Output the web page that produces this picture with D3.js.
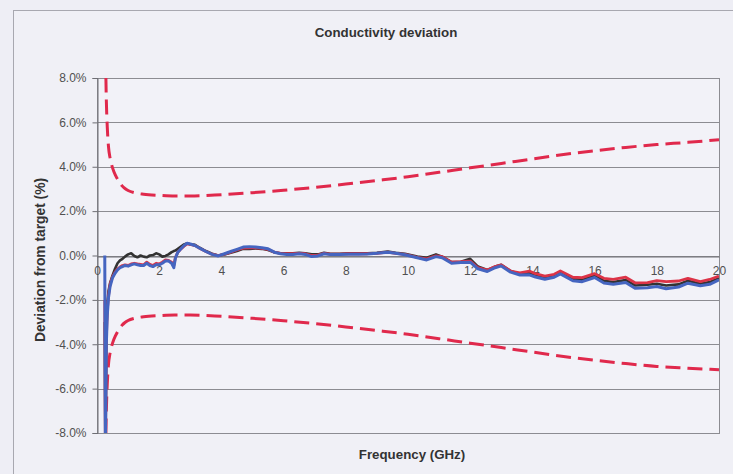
<!DOCTYPE html>
<html>
<head>
<meta charset="utf-8">
<script src="https://cdn.jsdelivr.net/npm/d3@7"></script>
<style>
  html, body { margin: 0; padding: 0; background: #eeeef5; }
  svg { display: block; }
  text { font-family: "Liberation Sans", Arial, sans-serif; }
</style>
</head>
<body>
<svg id="chart" width="733" height="474"></svg>
<script>
// ---------- data ----------
const title = "Conductivity deviation";
const xLabel = "Frequency (GHz)";
const yLabel = "Deviation from target (%)";
const xTicks = [0, 2, 4, 6, 8, 10, 12, 14, 16, 18, 20];
const yTicks = [-8, -6, -4, -2, 0, 2, 4, 6, 8];

// limit curves (dashed red)
const limitFreqs = [0.25, 0.28, 0.3, 0.33, 0.37, 0.42, 0.5, 0.6, 0.7, 0.8, 0.9, 1.0, 1.2, 1.5, 2.0, 2.5, 3.0, 4.0, 5.0, 6.0, 7.0, 8.0, 9.0, 10.0, 11.0, 12.0, 13.0, 14.0, 15.0, 16.0, 17.0, 18.0, 19.0, 20.0];
const upperLimit = [11, 8.5, 7.0, 5.8, 4.9, 4.4, 3.95, 3.6, 3.35, 3.15, 3.02, 2.93, 2.83, 2.76, 2.71, 2.68, 2.68, 2.74, 2.83, 2.94, 3.07, 3.22, 3.38, 3.55, 3.75, 3.95, 4.15, 4.35, 4.55, 4.72, 4.87, 5.0, 5.1, 5.22];
const lowerLimit = [-11, -8.5, -7.0, -5.8, -4.9, -4.4, -3.95, -3.6, -3.35, -3.15, -3.02, -2.93, -2.83, -2.76, -2.71, -2.68, -2.68, -2.74, -2.83, -2.94, -3.07, -3.22, -3.38, -3.55, -3.75, -3.95, -4.15, -4.35, -4.55, -4.72, -4.87, -5.0, -5.08, -5.15];

// measured deviation curves
const freqs = [0.25, 0.27, 0.3, 0.33, 0.37, 0.42, 0.5, 0.58, 0.66, 0.74, 0.82, 0.9, 1.0, 1.1, 1.2, 1.3, 1.4, 1.5, 1.6, 1.7, 1.8, 1.9, 2.0, 2.1, 2.2, 2.3, 2.4, 2.47, 2.52, 2.6, 2.7, 2.8, 2.9, 3.0, 3.15, 3.3, 3.5, 3.7, 3.9, 4.1, 4.3, 4.5, 4.7, 4.9, 5.1, 5.3, 5.5, 5.7, 5.9, 6.1, 6.3, 6.5, 6.7, 6.9, 7.1, 7.3, 7.5, 7.8, 8.1, 8.4, 8.7, 9.0, 9.35, 9.6, 9.9, 10.3, 10.6, 10.9, 11.1, 11.4, 11.7, 12.0, 12.25, 12.55, 12.8, 13.0, 13.3, 13.6, 13.9, 14.1, 14.4, 14.7, 14.9, 15.3, 15.6, 16.0, 16.3, 16.6, 17.0, 17.3, 17.7, 18.0, 18.3, 18.7, 19.0, 19.4, 19.7, 20.0];

const blackSeries = [-3, -9, -3.5, -2.2, -1.6, -1.25, -0.9, -0.6, -0.35, -0.22, -0.15, -0.05, 0.05, 0.1, -0.02, -0.08, 0.0, -0.05, -0.08, 0.0, 0.02, 0.1, 0.05, -0.05, -0.02, 0.05, 0.15, 0.2, 0.22, 0.3, 0.4, 0.5, 0.55, 0.5, 0.48, 0.35, 0.2, 0.08, 0.0, 0.05, 0.12, 0.2, 0.3, 0.3, 0.32, 0.3, 0.25, 0.15, 0.1, 0.1, 0.1, 0.12, 0.1, 0.05, 0.05, 0.12, 0.08, 0.08, 0.1, 0.1, 0.1, 0.12, 0.18, 0.12, 0.08, -0.05, -0.1, 0.05, -0.05, -0.3, -0.28, -0.15, -0.5, -0.65, -0.5, -0.42, -0.7, -0.83, -0.78, -0.88, -0.98, -0.9, -0.75, -1.05, -1.1, -0.9, -1.14, -1.2, -1.1, -1.35, -1.32, -1.27, -1.35, -1.3, -1.14, -1.27, -1.2, -1.02];

const redSeries = [-2, -9, -3.8, -2.5, -1.8, -1.3, -0.95, -0.75, -0.6, -0.52, -0.45, -0.42, -0.45, -0.38, -0.35, -0.38, -0.4, -0.42, -0.3, -0.4, -0.45, -0.35, -0.38, -0.3, -0.2, -0.22, -0.3, -0.45, -0.1, 0.15, 0.3, 0.42, 0.52, 0.5, 0.45, 0.33, 0.18, 0.06, 0.0, 0.06, 0.15, 0.25, 0.33, 0.35, 0.35, 0.32, 0.28, 0.15, 0.1, 0.08, 0.08, 0.1, 0.08, 0.0, 0.02, 0.1, 0.06, 0.06, 0.08, 0.08, 0.08, 0.1, 0.15, 0.1, 0.05, -0.08, -0.15, -0.02, -0.05, -0.3, -0.28, -0.25, -0.55, -0.66, -0.5, -0.42, -0.7, -0.78, -0.7, -0.82, -0.93, -0.85, -0.7, -0.98, -1.0, -0.82, -1.03, -1.08, -0.98, -1.23, -1.22, -1.13, -1.18, -1.15, -1.03, -1.18, -1.08, -0.93];

const blueSeries = [0.0, -9, -4.0, -2.7, -1.9, -1.4, -1.0, -0.8, -0.65, -0.55, -0.5, -0.45, -0.48, -0.42, -0.38, -0.42, -0.45, -0.45, -0.35, -0.45, -0.5, -0.42, -0.42, -0.35, -0.25, -0.25, -0.35, -0.55, -0.12, 0.15, 0.3, 0.45, 0.55, 0.52, 0.45, 0.33, 0.18, 0.05, -0.02, 0.08, 0.18, 0.28, 0.38, 0.4, 0.38, 0.35, 0.3, 0.15, 0.08, 0.05, 0.05, 0.08, 0.05, -0.05, -0.02, 0.08, 0.04, 0.04, 0.06, 0.06, 0.07, 0.1, 0.15, 0.1, 0.03, -0.1, -0.2, -0.05, -0.1, -0.35, -0.32, -0.3, -0.6, -0.72, -0.55, -0.47, -0.75, -0.88, -0.87, -0.97, -1.07, -0.98, -0.83, -1.14, -1.18, -0.99, -1.24, -1.3, -1.22, -1.48, -1.45, -1.4, -1.5, -1.42, -1.25, -1.36, -1.3, -1.1];

// ---------- drawing ----------
const svg = d3.select("#chart");
const W = 733, H = 474;
const plot = { left: 97, right: 719, top: 78, bottom: 433 };

const x = d3.scaleLinear().domain([0, 20]).range([plot.left, plot.right]);
const y = d3.scaleLinear().domain([-8, 8]).range([plot.bottom, plot.top]);

// page background + outer frame
svg.append("rect").attr("width", W).attr("height", H).attr("fill", "#eeeef5");
svg.append("rect")
  .attr("x", 13.5).attr("y", 10.5).attr("width", W).attr("height", H)
  .attr("fill", "#f0f0f6").attr("stroke", "#a8a8b0").attr("stroke-width", 1);

// plot area
svg.append("rect")
  .attr("x", plot.left).attr("y", plot.top)
  .attr("width", plot.right - plot.left).attr("height", plot.bottom - plot.top)
  .attr("fill", "#f2f2f8");

// horizontal gridlines
svg.append("g").selectAll("line").data(yTicks).join("line")
  .attr("x1", plot.left).attr("x2", plot.right)
  .attr("y1", d => Math.round(y(d)) + 0.5).attr("y2", d => Math.round(y(d)) + 0.5)
  .attr("stroke", "#8c8c92").attr("stroke-width", 1);

// plot border
svg.append("rect")
  .attr("x", plot.left + 0.5).attr("y", Math.round(plot.top) + 0.5)
  .attr("width", plot.right - plot.left).attr("height", plot.bottom - plot.top)
  .attr("fill", "none").attr("stroke", "#8c8c92");

// y axis
const yAxis = svg.append("g")
  .attr("transform", `translate(${plot.left + 0.5},0)`)
  .call(d3.axisLeft(y).tickValues(yTicks).tickSize(5).tickPadding(6)
    .tickFormat(d => d.toFixed(1) + "%"));
yAxis.select(".domain").attr("stroke", "#6e6e74");
yAxis.selectAll(".tick line").attr("stroke", "#6e6e74");
yAxis.selectAll("text").attr("fill", "#505050").attr("font-size", 12);

// x axis at 0
const xAxis = svg.append("g")
  .attr("transform", `translate(0,${Math.round(y(0)) + 0.5})`)
  .call(d3.axisBottom(x).tickValues(xTicks).tickSize(0).tickPadding(10)
    .tickFormat(d3.format("d")));
xAxis.select(".domain").attr("stroke", "#6e6e74");
xAxis.selectAll("text").attr("fill", "#505050").attr("font-size", 12);

// clip
svg.append("clipPath").attr("id", "clip").append("rect")
  .attr("x", plot.left).attr("y", plot.top)
  .attr("width", plot.right - plot.left).attr("height", plot.bottom - plot.top);

const g = svg.append("g").attr("clip-path", "url(#clip)");
const line = d3.line().x(d => x(d[0])).y(d => y(d[1])).curve(d3.curveMonotoneX);

// limit lines
[upperLimit, lowerLimit].forEach(arr => {
  g.append("path")
    .datum(limitFreqs.map((f, i) => [f, arr[i]]))
    .attr("d", line)
    .attr("fill", "none").attr("stroke", "#e0294c")
    .attr("stroke-width", 3).attr("stroke-dasharray", "15,7");
});

// measured lines
const series = [
  { vals: blackSeries, color: "#333333", w: 2.6 },
  { vals: redSeries, color: "#dc3347", w: 2.8 },
  { vals: blueSeries, color: "#4565c0", w: 3.0 }
];
const mline = d3.line().x(d => x(d[0])).y(d => y(d[1]));
series.forEach(s => {
  g.append("path")
    .datum(freqs.map((f, i) => [f, s.vals[i]]))
    .attr("d", mline)
    .attr("fill", "none").attr("stroke", s.color)
    .attr("stroke-width", s.w).attr("stroke-linejoin", "round");
});

// titles
svg.append("text").attr("x", 386).attr("y", 37).attr("text-anchor", "middle")
  .attr("font-size", 13.3).attr("font-weight", "bold").attr("fill", "#333").text(title);
svg.append("text").attr("x", 412).attr("y", 459).attr("text-anchor", "middle")
  .attr("font-size", 13.3).attr("font-weight", "bold").attr("fill", "#333").text(xLabel);
svg.append("text")
  .attr("transform", "translate(45,260) rotate(-90)")
  .attr("text-anchor", "middle")
  .attr("font-size", 13.8).attr("font-weight", "bold").attr("fill", "#333").text(yLabel);
</script>
</body>
</html>
